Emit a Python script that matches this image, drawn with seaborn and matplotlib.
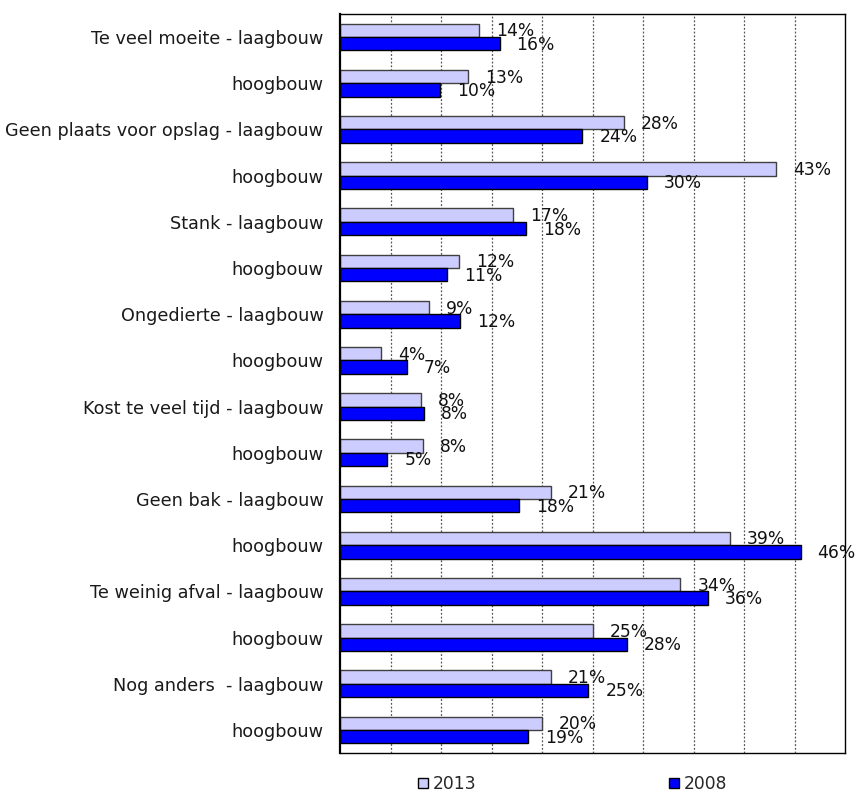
import matplotlib
matplotlib.use("Agg")
import matplotlib.pyplot as plt
import seaborn as sns
import pandas as pd

categories = [
    "Te veel moeite - laagbouw", "hoogbouw",
    "Geen plaats voor opslag - laagbouw", "hoogbouw",
    "Stank - laagbouw", "hoogbouw",
    "Ongedierte - laagbouw", "hoogbouw",
    "Kost te veel tijd - laagbouw", "hoogbouw",
    "Geen bak - laagbouw", "hoogbouw",
    "Te weinig afval - laagbouw", "hoogbouw",
    "Nog anders  - laagbouw", "hoogbouw",
]
values_2013 = [13.8, 12.7, 28.1, 43.2, 17.1, 11.8, 8.8, 4.1, 8.0, 8.2, 20.9, 38.6, 33.7, 25.0, 20.9, 20.0]
values_2008 = [15.8, 9.9, 24.0, 30.4, 18.4, 10.6, 11.9, 6.6, 8.3, 4.7, 17.7, 45.6, 36.4, 28.4, 24.6, 18.6]
labels_2013 = ["14%", "13%", "28%", "43%", "17%", "12%", "9%", "4%", "8%", "8%", "21%", "39%", "34%", "25%", "21%", "20%"]
labels_2008 = ["16%", "10%", "24%", "30%", "18%", "11%", "12%", "7%", "8%", "5%", "18%", "46%", "36%", "28%", "25%", "19%"]
series = ["2013", "2008"]

sns.set_theme(style="white")
plt.rcParams["font.family"] = ["DejaVu Sans"]

keys = [f"c{i}" for i in range(len(categories))]
df = pd.DataFrame({
    "key": keys * 2,
    "value": values_2013 + values_2008,
    "year": ["2013"] * len(keys) + ["2008"] * len(keys),
})

fig = plt.figure(figsize=(8.59, 7.92), dpi=100)
ax = fig.add_axes([340 / 859, 1 - 753 / 792, 505 / 859, (753 - 14) / 792])

sns.barplot(data=df, y="key", x="value", hue="year", order=keys, hue_order=series,
            palette={"2013": "#CCCCFF", "2008": "#0000FF"}, orient="h",
            width=0.58, ax=ax, linewidth=1.0, edgecolor="black", saturation=1)

edgecols = ["#404040", "#000000"]
label_lists = [labels_2013, labels_2008]
for cont, ec, labs in zip(ax.containers, edgecols, label_lists):
    for bar, lab in zip(cont, labs):
        bar.set_edgecolor(ec)
        ax.annotate(lab, (bar.get_width(), bar.get_y() + bar.get_height() / 2),
                    xytext=(17, -1), textcoords="offset pixels",
                    ha="left", va="center", fontsize=12.3, color="#111111",
                    annotation_clip=False)

ax.set_xlim(0, 50)
ax.set_xticks(range(5, 50, 5))
ax.set_xticklabels([])
ax.set_yticks(range(len(categories)))
ax.set_yticklabels(categories, fontsize=12.7, color="#1a1a1a")
ax.tick_params(axis="both", length=0)
ax.tick_params(axis="y", pad=12)
ax.set_xlabel("")
ax.set_ylabel("")
ax.xaxis.grid(True, linestyle=(0, (1.5, 1.5)), color="#555555", linewidth=0.9)
ax.yaxis.grid(False)
ax.set_axisbelow(True)
for s in ax.spines.values():
    s.set_visible(True)
    s.set_color("black")
    s.set_linewidth(1.0)
ax.spines["left"].set_linewidth(1.6)

handles, labs = ax.get_legend_handles_labels()
ax.legend_.remove()
fig.legend(handles, labs, loc="center left", bbox_to_anchor=(418 / 859, 1 - 784 / 792),
           ncol=2, frameon=False, fontsize=12.3, handlelength=0.6, handleheight=0.6,
           handletextpad=0.25, columnspacing=11.3, borderpad=0, borderaxespad=0)

fig.savefig("out.png", dpi=100)
